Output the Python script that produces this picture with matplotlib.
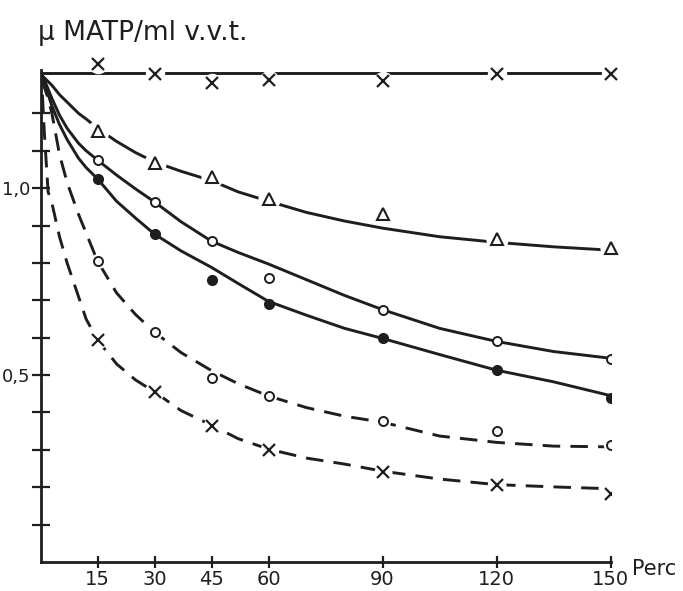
import matplotlib
matplotlib.use("Agg")
import matplotlib.pyplot as plt

plt.rcParams['font.family'] = ['DejaVu Sans']

# sampling times (Perc) of the measured points
times = [15, 30, 45, 60, 90, 120, 150]

# measured points, u MATP / ml
pts_x_top = [1.332, 1.305, 1.280, 1.290, 1.287, 1.305, 1.305]
pts_tri = [1.152, 1.067, 1.030, 0.971, 0.930, 0.864, 0.840]
pts_open = [1.075, 0.963, 0.858, 0.759, 0.674, 0.591, 0.543]
pts_full = [1.025, 0.877, 0.754, 0.690, 0.599, 0.513, 0.438]
pts_open_d = [0.805, 0.615, 0.492, 0.444, 0.377, 0.350, 0.313]
pts_x_d = [0.594, 0.455, 0.364, 0.300, 0.241, 0.206, 0.182]

# hand drawn fitted curves
curve_t = [0.5, 1, 2, 3, 5, 7, 10, 12, 15, 20, 25, 30, 37, 45, 52, 60,
           70, 80, 90, 105, 120, 135, 150]
top_t = [0, 150]
top_v = [1.307, 1.307]
curve_tri = [1.300, 1.295, 1.285, 1.275, 1.250, 1.230, 1.200, 1.185, 1.160,
             1.125, 1.095, 1.070, 1.045, 1.020, 0.990, 0.965, 0.935, 0.912,
             0.893, 0.870, 0.855, 0.843, 0.834]
curve_open = [1.300, 1.290, 1.265, 1.240, 1.195, 1.160, 1.120, 1.100, 1.075,
              1.035, 0.998, 0.963, 0.910, 0.858, 0.828, 0.797, 0.755, 0.713,
              0.675, 0.625, 0.590, 0.563, 0.545]
curve_full = [1.300, 1.285, 1.250, 1.220, 1.170, 1.130, 1.080, 1.055, 1.025,
              0.965, 0.920, 0.877, 0.832, 0.788, 0.745, 0.697, 0.660, 0.625,
              0.598, 0.555, 0.513, 0.482, 0.445]
curve_open_d = [1.290, 1.270, 1.240, 1.200, 1.090, 1.015, 0.930, 0.880, 0.805,
                0.720, 0.662, 0.615, 0.560, 0.512, 0.477, 0.444, 0.413, 0.390,
                0.374, 0.337, 0.320, 0.310, 0.308]
curve_x_d = [1.250, 1.150, 0.990, 0.960, 0.870, 0.800, 0.710, 0.650, 0.594,
             0.530, 0.487, 0.455, 0.405, 0.366, 0.330, 0.302, 0.278, 0.262,
             0.243, 0.222, 0.207, 0.201, 0.196]

xticks = [15, 30, 45, 60, 90, 120, 150]
yticks = [0.1, 0.2, 0.3, 0.4, 0.5, 0.6, 0.7, 0.8, 0.9, 1.0, 1.1, 1.2]
ylabels = ['', '', '', '', '0,5', '', '', '', '', '1,0', '', '']

ink = '#1e1e1e'

fig = plt.figure(figsize=(6.83, 5.91), dpi=100)
ax = fig.add_axes([0.0593, 0.049, 0.8346, 0.832])

lw = 2.1
ax.plot(top_t, top_v, color=ink, lw=lw, solid_capstyle='butt')
ax.plot(curve_t, curve_tri, color=ink, lw=lw)
ax.plot(curve_t, curve_open, color=ink, lw=lw)
ax.plot(curve_t, curve_full, color=ink, lw=lw)
ax.plot(curve_t, curve_open_d, color=ink, lw=lw, dashes=(6, 3.5))
ax.plot(curve_t, curve_x_d, color=ink, lw=lw, dashes=(6, 3.5))

# white patches behind markers so the lines break around them
for vals, ms in [(pts_x_top, 14), (pts_tri, 16), (pts_open_d, 11),
                 (pts_x_d, 13)]:
    ax.plot(times, vals, ls='none', marker='o', ms=ms, mfc='white',
            mec='none', clip_on=False, zorder=3)

ax.plot(times, pts_x_top, ls='none', marker='x', ms=8, mew=1.6, color=ink,
        clip_on=False, zorder=4)
ax.plot(times, pts_tri, ls='none', marker='^', ms=8.5, mew=1.5, mfc='white',
        mec=ink, clip_on=False, zorder=4)
ax.plot(times, pts_open, ls='none', marker='o', ms=6.5, mew=1.4, mfc='white',
        mec=ink, zorder=4)
ax.plot(times, pts_full, ls='none', marker='o', ms=7, color=ink, zorder=4)
ax.plot(times, pts_open_d, ls='none', marker='o', ms=6.5, mew=1.4,
        mfc='white', mec=ink, zorder=4)
ax.plot(times, pts_x_d, ls='none', marker='x', ms=9, mew=1.6, color=ink,
        zorder=4)

ax.set_xlim(0, 150)
ax.set_ylim(0, 1.315)
for side in ['top', 'right']:
    ax.spines[side].set_visible(False)
for side in ['left', 'bottom']:
    ax.spines[side].set_linewidth(2.0)
    ax.spines[side].set_color(ink)

ax.set_xticks(xticks)
ax.set_xticklabels([str(t) for t in xticks], fontsize=14, color=ink)
ax.set_yticks(yticks)
ax.set_yticklabels(ylabels, fontsize=13, color=ink)
ax.tick_params(axis='x', direction='inout', length=9, width=1.6,
               colors=ink, pad=1)
ax.tick_params(axis='y', direction='inout', length=13, width=1.6,
               colors=ink, pad=1)

fig.text(0.925, 0.038, 'Perc', fontsize=15, color=ink, va='center')
fig.text(0.055, 0.945, 'μ MATP/ml v.v.t.', fontsize=19, color=ink,
         va='center')

plt.savefig('out.png', dpi=100)
